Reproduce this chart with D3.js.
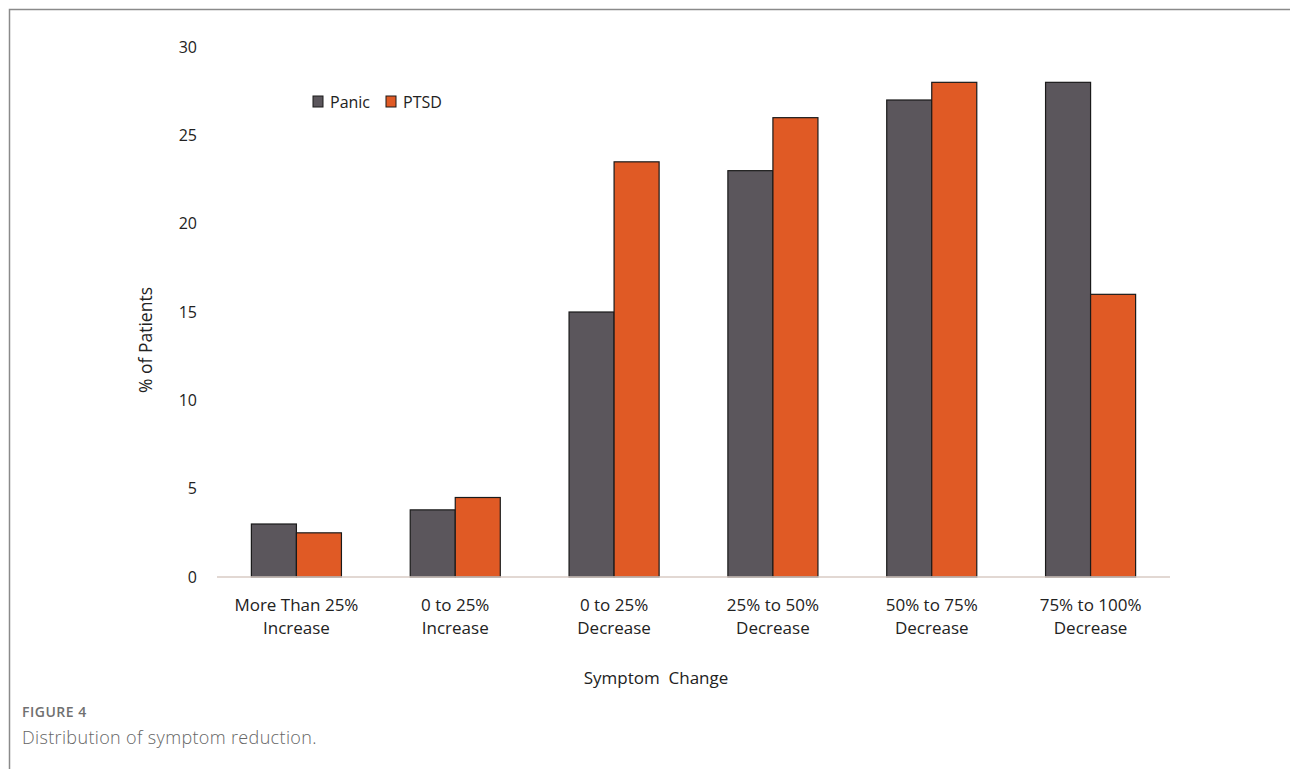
<!DOCTYPE html>
<html>
<head>
<meta charset="utf-8">
<script src="https://cdn.jsdelivr.net/npm/d3@7"></script>
<style>
  body { margin: 0; background: #fff; }
  svg { display: block; }
</style>
</head>
<body>
<script>
// chart data
var categories = [
  ["More Than 25%", "Increase"],
  ["0 to 25%", "Increase"],
  ["0 to 25%", "Decrease"],
  ["25% to 50%", "Decrease"],
  ["50% to 75%", "Decrease"],
  ["75% to 100%", "Decrease"]
];
var seriesNames = ["Panic", "PTSD"];
var panicValues = [3, 3.8, 15, 23, 27, 28];
var ptsdValues = [2.5, 4.5, 23.5, 26, 28, 16];
var yTicks = [0, 5, 10, 15, 20, 25, 30];
var colors = ["#5b565c", "#e05a25"];

var width = 1290, height = 769;
var font = "'Open Sans', 'Noto Sans', sans-serif";

var svg = d3.select("body").append("svg")
    .attr("width", width)
    .attr("height", height);

// figure frame (top and left rules)
svg.append("path")
    .attr("d", "M9.5,769 V9.5 H1290")
    .attr("fill", "none")
    .attr("stroke", "#8a8a8a")
    .attr("stroke-width", 1.5);

// scales
var x0 = d3.scaleBand()
    .domain(d3.range(categories.length))
    .range([217, 1170])
    .paddingInner(0.433)
    .paddingOuter(0.2165);

var x1 = d3.scaleBand()
    .domain(seriesNames)
    .range([0, x0.bandwidth()]);

var y = d3.scaleLinear()
    .domain([0, 30])
    .range([577, 47]);

// y tick labels (no axis line in the original)
svg.selectAll(".ytick")
    .data(yTicks)
    .enter().append("text")
    .attr("x", 197)
    .attr("y", function(d) { return y(d); })
    .attr("dy", "0.35em")
    .attr("text-anchor", "end")
    .attr("font-family", font)
    .attr("font-size", 16)
    .attr("fill", "#222")
    .text(function(d) { return d; });

// bars
var rows = categories.map(function(c, i) {
  return [panicValues[i], ptsdValues[i]];
});

var groups = svg.selectAll(".group")
    .data(rows)
    .enter().append("g")
    .attr("transform", function(d, i) { return "translate(" + x0(i) + ",0)"; });

groups.selectAll("rect")
    .data(function(d) { return d.map(function(v, j) { return { key: seriesNames[j], value: v, j: j }; }); })
    .enter().append("rect")
    .attr("x", function(d) { return x1(d.key); })
    .attr("y", function(d) { return y(d.value); })
    .attr("width", x1.bandwidth())
    .attr("height", function(d) { return y(0) - y(d.value); })
    .attr("fill", function(d) { return colors[d.j]; })
    .attr("stroke", "#1a1a1a")
    .attr("stroke-width", 1.2);

// x baseline
svg.append("line")
    .attr("x1", 217).attr("x2", 1170)
    .attr("y1", y(0)).attr("y2", y(0))
    .attr("stroke", "#d8cbc4")
    .attr("stroke-width", 1.5);

// x category labels (two lines)
var xl = svg.selectAll(".xlabel")
    .data(categories)
    .enter().append("text")
    .attr("text-anchor", "middle")
    .attr("font-family", font)
    .attr("font-size", 17)
    .attr("fill", "#222");

xl.selectAll("tspan")
    .data(function(d, i) { return d.map(function(s) { return { s: s, i: i }; }); })
    .enter().append("tspan")
    .attr("x", function(d) { return x0(d.i) + x0.bandwidth() / 2; })
    .attr("y", function(d, k) { return 611 + k * 23; })
    .text(function(d) { return d.s; });

// axis titles
svg.append("text")
    .attr("x", 656)
    .attr("y", 684)
    .attr("text-anchor", "middle")
    .attr("font-family", font)
    .attr("font-size", 17)
    .attr("fill", "#222")
    .attr("xml:space", "preserve")
    .style("white-space", "pre")
    .text("Symptom  Change");

svg.append("text")
    .attr("transform", "translate(152,340) rotate(-90)")
    .attr("text-anchor", "middle")
    .attr("font-family", font)
    .attr("font-size", 17.5)
    .attr("fill", "#222")
    .text("% of Patients");

// legend
var legend = svg.selectAll(".legend")
    .data(seriesNames)
    .enter().append("g")
    .attr("transform", function(d, i) { return "translate(" + [313, 386][i] + ",102)"; });

legend.append("rect")
    .attr("x", 0).attr("y", -6)
    .attr("width", 10).attr("height", 11)
    .attr("fill", function(d, i) { return colors[i]; })
    .attr("stroke", "#1a1a1a")
    .attr("stroke-width", 1);

legend.append("text")
    .attr("x", 17)
    .attr("dy", "0.35em")
    .attr("font-family", font)
    .attr("font-size", 16)
    .attr("fill", "#222")
    .text(function(d) { return d; });

// caption
svg.append("text")
    .attr("x", 22).attr("y", 717)
    .attr("font-family", font)
    .attr("font-size", 14)
    .attr("font-weight", 600)
    .attr("letter-spacing", 0.5)
    .attr("fill", "#707070")
    .text("FIGURE 4");

svg.append("text")
    .attr("x", 22).attr("y", 744)
    .attr("font-family", font)
    .attr("font-size", 18)
    .attr("font-weight", 300)
    .attr("letter-spacing", 0.35)
    .attr("fill", "#666")
    .text("Distribution of symptom reduction.");
</script>
</body>
</html>
